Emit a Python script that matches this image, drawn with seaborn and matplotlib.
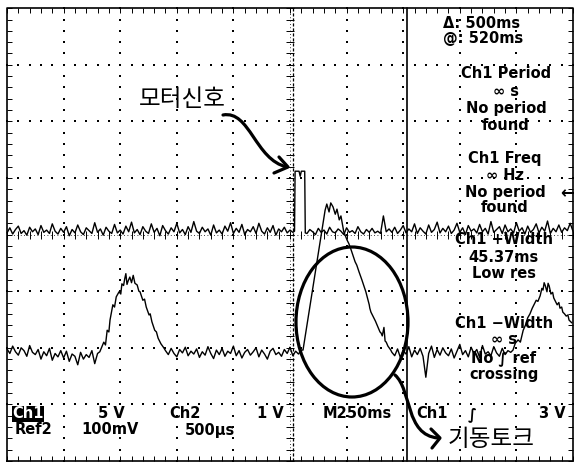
import matplotlib
matplotlib.use("Agg")
import matplotlib.pyplot as plt
from matplotlib.patches import Ellipse, PathPatch
from matplotlib.path import Path
from matplotlib.collections import LineCollection
import numpy as np
import seaborn as sns

# ---------------- data (screen divisions, 250 ms/div horizontally) ----------------
# Ch1: motor signal (upper trace)
ch1_t = [0.00, 0.05, 0.10, 0.15, 0.20, 0.25, 0.30, 0.35, 0.40, 0.45,
         0.50, 0.55, 0.60, 0.65, 0.70, 0.75, 0.80, 0.85, 0.90, 0.95,
         1.00, 1.05, 1.10, 1.15, 1.20, 1.25, 1.30, 1.35, 1.40, 1.45,
         1.50, 1.55, 1.60, 1.65, 1.70, 1.75, 1.80, 1.85, 1.90, 1.95,
         2.00, 2.05, 2.10, 2.15, 2.20, 2.25, 2.30, 2.35, 2.40, 2.45,
         2.50, 2.55, 2.60, 2.65, 2.70, 2.75, 2.80, 2.85, 2.90, 2.95,
         3.00, 3.05, 3.10, 3.15, 3.20, 3.25, 3.30, 3.35, 3.40, 3.45,
         3.50, 3.55, 3.60, 3.65, 3.70, 3.75, 3.80, 3.85, 3.90, 3.95,
         4.00, 4.05, 4.10, 4.15, 4.20, 4.25, 4.30, 4.35, 4.40, 4.45,
         4.50, 4.55, 4.60, 4.65, 4.70, 4.75, 4.80, 4.85, 4.90, 4.95,
         5.00, 5.05,
         5.08, 5.09, 5.16, 5.18, 5.20, 5.26, 5.27,
         5.30, 5.35, 5.40, 5.45, 5.50, 5.55, 5.60, 5.65, 5.70, 5.75,
         5.80, 5.85, 5.90, 5.95, 6.00, 6.05, 6.10, 6.15, 6.20, 6.25,
         6.30, 6.35, 6.40, 6.45, 6.50, 6.55, 6.60, 6.65, 6.70, 6.75,
         6.80, 6.85, 6.90, 6.95, 7.00, 7.05, 7.10, 7.15, 7.20, 7.25,
         7.30, 7.35, 7.40, 7.45, 7.50, 7.55, 7.60, 7.65, 7.70, 7.75,
         7.80, 7.85, 7.90, 7.95, 8.00, 8.05, 8.10, 8.15, 8.20, 8.25,
         8.30, 8.35, 8.40, 8.45, 8.50, 8.55, 8.60, 8.65, 8.70, 8.75,
         8.80, 8.85, 8.90, 8.95, 9.00, 9.05, 9.10, 9.15, 9.20, 9.25,
         9.30, 9.35, 9.40, 9.45, 9.50, 9.55, 9.60, 9.65, 9.70, 9.75,
         9.80, 9.85, 9.90, 9.95, 10.00]
ch1_v = [4.03, 4.12, 4.01, 4.09, 4.15, 4.02, 4.07, 3.99, 4.13, 4.05,
         4.10, 4.00, 4.16, 4.04, 4.08, 4.02, 4.19, 4.06, 4.01, 4.11,
         4.04, 4.14, 3.98, 4.09, 4.03, 4.17, 4.05, 4.00, 4.12, 4.07,
         4.02, 4.21, 4.04, 4.10, 3.99, 4.13, 4.06, 4.02, 4.18, 4.03,
         4.08, 4.01, 4.15, 4.05, 4.22, 4.03, 4.09, 4.00, 4.14, 4.06,
         4.02, 4.19, 4.04, 4.11, 3.98, 4.16, 4.07, 4.01, 4.12, 4.05,
         4.20, 4.03, 4.09, 4.00, 4.14, 4.04, 4.23, 4.06, 4.02, 4.13,
         4.05, 4.10, 3.99, 4.17, 4.03, 4.08, 4.01, 4.15, 4.06, 4.21,
         4.02, 4.11, 4.04, 4.18, 4.00, 4.09, 4.05, 4.14, 4.02, 4.20,
         4.06, 4.01, 4.12, 4.04, 4.16, 3.99, 4.10, 4.05, 4.13, 4.03,
         4.08, 4.04,
         4.06, 5.12, 5.12, 5.03, 5.12, 5.12, 4.03,
         4.02, 4.09, 4.05, 4.00, 4.11, 4.04, 4.08, 4.01, 4.13, 4.05,
         4.03, 4.10, 4.06, 4.00, 4.12, 4.04, 4.07, 4.02, 4.14, 4.05,
         4.01, 4.09, 4.04, 4.11, 4.03, 4.06, 4.02, 4.33, 4.05, 4.10,
         4.04, 4.13, 4.02, 4.08, 4.16, 4.03, 4.10, 4.05, 4.19, 4.02,
         4.12, 4.06, 4.01, 4.17, 4.04, 4.09, 4.22, 4.03, 4.11, 4.05,
         4.15, 4.02, 4.08, 4.20, 4.04, 4.12, 4.00, 4.16, 4.06, 4.10,
         4.03, 4.18, 4.05, 4.11, 4.01, 4.23, 4.04, 4.09, 4.14, 4.02,
         4.17, 4.05, 4.10, 4.03, 4.21, 4.06, 4.12, 4.01, 4.15, 4.04,
         4.09, 4.19, 4.03, 4.13, 4.06, 4.24, 4.02, 4.11, 4.05, 4.17,
         4.04, 4.12, 4.07, 4.20, 4.06]

# Ch2: starting torque (lower trace)
ch2_t = [0.00, 0.05, 0.10, 0.15, 0.20, 0.25, 0.30, 0.35, 0.40, 0.45,
         0.50, 0.55, 0.60, 0.65, 0.70, 0.75, 0.80, 0.85, 0.90, 0.95,
         1.00, 1.05, 1.10, 1.15, 1.20, 1.25, 1.30, 1.35, 1.40, 1.45,
         1.50, 1.55, 1.60,
         1.64, 1.71, 1.74, 1.77, 1.80, 1.82, 1.87, 1.90, 1.93, 1.98,
         2.01, 2.03, 2.06, 2.08, 2.10, 2.12, 2.14, 2.17, 2.20, 2.23,
         2.26, 2.30, 2.33, 2.35, 2.38, 2.40, 2.43, 2.46, 2.51, 2.53,
         2.56, 2.61, 2.64, 2.67, 2.72, 2.77,
         2.80, 2.85, 2.90, 2.95, 3.00, 3.05, 3.10, 3.15, 3.20, 3.25,
         3.30, 3.35, 3.40, 3.45, 3.50, 3.55, 3.60, 3.65, 3.70, 3.75,
         3.80, 3.85, 3.90, 3.95, 4.00, 4.05, 4.10, 4.15, 4.20, 4.25,
         4.30, 4.35, 4.40, 4.45, 4.50, 4.55, 4.60, 4.65, 4.70, 4.75,
         4.80, 4.85, 4.90, 4.95, 5.00, 5.05, 5.10, 5.15, 5.20,
         5.23, 5.62, 5.65, 5.69, 5.72, 5.76, 5.80, 5.83, 5.87, 5.90,
         5.95, 6.01, 6.04, 6.08, 6.15, 6.18, 6.22, 6.27, 6.31, 6.34,
         6.40, 6.41, 6.43, 6.48, 6.51, 6.54, 6.59, 6.61, 6.63, 6.66,
         6.68, 6.70, 6.73, 6.78,
         6.80, 6.85, 6.90, 6.95, 7.00, 7.05, 7.10, 7.15, 7.20, 7.25,
         7.30, 7.35, 7.40, 7.45, 7.50, 7.55, 7.60, 7.65, 7.70, 7.75,
         7.80, 7.85, 7.90, 7.95, 8.00, 8.05, 8.10, 8.15, 8.20, 8.25,
         8.30, 8.35, 8.40, 8.45, 8.50, 8.55, 8.60, 8.65, 8.70, 8.75,
         8.80, 8.85, 8.90,
         8.94, 8.98, 9.03, 9.07, 9.12, 9.16, 9.20, 9.24, 9.28, 9.32,
         9.35, 9.38, 9.42, 9.45, 9.47, 9.49, 9.51, 9.54, 9.56, 9.58,
         9.61, 9.64, 9.66, 9.69, 9.72, 9.75, 9.77, 9.80, 9.82, 9.85,
         9.88, 9.91, 9.93, 9.98]
ch2_v = [1.98, 1.90, 2.03, 1.93, 1.87, 2.00, 1.95, 1.85, 2.04, 1.92,
         1.88, 1.97, 1.80, 1.93, 1.86, 1.99, 1.78, 1.90, 1.84, 1.95,
         1.82, 1.94, 1.76, 1.89, 1.85, 1.70, 1.92, 1.80, 1.88, 1.83,
         1.95, 1.72, 1.90,
         1.93, 2.10, 2.05, 2.31, 2.28, 2.49, 2.76, 2.72, 2.90, 2.99,
         2.95, 3.13, 3.10, 3.22, 3.31, 3.12, 3.18, 3.25, 3.15, 3.28,
         3.14, 3.11, 3.00, 2.99, 2.90, 2.84, 2.86, 2.72, 2.58, 2.60,
         2.46, 2.31, 2.28, 2.17, 2.07, 2.00,
         1.95, 1.88, 1.99, 1.90, 1.84, 1.97, 1.91, 2.01, 1.86, 1.94,
         1.89, 1.98, 1.83, 1.93, 1.87, 2.02, 1.90, 1.81, 1.96, 1.88,
         1.99, 1.85, 1.94, 1.90, 2.03, 1.86, 1.95, 1.82, 1.92, 1.97,
         1.87, 1.93, 2.00, 1.84, 1.96, 1.89, 1.80, 1.94, 1.99, 1.88,
         1.92, 1.85, 1.97, 1.90, 2.01, 1.86, 1.94, 1.89, 1.96,
         1.96, 4.43, 4.54, 4.40, 4.56, 4.49, 4.36, 4.45, 4.26, 4.33,
         4.05, 3.90, 3.84, 3.73, 3.52, 3.46, 3.34, 3.20, 3.08, 2.99,
         2.76, 2.70, 2.63, 2.53, 2.47, 2.40, 2.28, 2.26, 2.21, 2.36,
         2.12, 2.10, 2.03, 1.96,
         1.92, 1.86, 1.98, 1.83, 1.95, 1.89, 2.02, 1.84, 1.96, 1.88,
         1.99, 1.85, 1.48, 1.90, 2.03, 1.83, 1.97, 1.87, 2.00, 1.91,
         1.86, 1.98, 1.82, 1.94, 2.06, 1.88, 1.95, 1.84, 2.01, 1.90,
         1.97, 1.83, 2.04, 1.89, 1.93, 1.86, 2.02, 1.91, 1.85, 1.99,
         1.88, 1.95, 1.92,
         1.96, 2.08, 2.14, 2.10, 2.31, 2.40, 2.53, 2.60, 2.70, 2.78,
         2.84, 2.82, 2.92, 3.05, 3.02, 3.15, 3.10, 2.99, 3.14, 3.09,
         2.95, 2.98, 2.88, 2.82, 2.76, 2.80, 2.70, 2.72, 2.63, 2.60,
         2.56, 2.58, 2.49, 2.44]

# readouts
cursor_lines = [5.06, 7.06]          # cursor positions (div)
readout_lines = ["\u0394: 500ms", "@: 520ms"]
meas_blocks = [["Ch1 Period", "\u221e s", "No period", "found"],
               ["Ch1 Freq", "\u221e Hz", "No period", "found"],
               ["Ch1 +Width", "45.37ms", "Low res"],
               ["Ch1 \u2212Width", "\u221e s", "No \u222b ref", "crossing"]]
status_row1 = ["Ch1", "5 V", "Ch2", "1 V", "M250ms", "Ch1", "\u222b", "3 V"]
status_row2 = ["Ref2", "100mV", "500\u00b5s"]
label_motor = "모터신호"
label_torque = "기동토크"

# ---------------- layout helpers ----------------
D = 56.6            # pixels per division
X0, YB = 7.0, 461.0  # graticule left / bottom in pixels


def P(px, py):
    return ((px - X0) / D, (YB - py) / D)


sns.set_theme(style="white")
plt.rcParams['font.family'] = ['DejaVu Sans']

fig = plt.figure(figsize=(5.74, 4.62), dpi=100)
ax = fig.add_axes([0, 0, 1, 1])
ax.set_xlim(P(0, 0)[0], P(574, 0)[0])
ax.set_ylim(P(0, 462)[1], P(0, 0)[1])
ax.axis('off')

K = 'black'

# graticule dots
minor_x = np.linspace(0, 10, 51)
minor_y = np.linspace(0, 8, 41)
gx, gy = [], []
for i in [1, 2, 3, 4, 6, 7, 8, 9]:
    gx += [i] * len(minor_y)
    gy += list(minor_y)
for j in [1, 2, 3, 5, 6, 7]:
    gx += list(minor_x)
    gy += [j] * len(minor_x)
ax.scatter(gx, gy, s=1.3, marker='s', color=K, linewidths=0, zorder=1)

# centre cross ticks and border ticks
tk = 0.07
segs = []
for y in minor_y:
    segs.append([(5 - tk, y), (5 + tk, y)])
    segs.append([(0, y), (0.08, y)])
    segs.append([(10, y), (10 - 0.08, y)])
for x in minor_x:
    segs.append([(x, 4 - tk), (x, 4 + tk)])
    segs.append([(x, 8), (x, 8 - 0.08)])
    segs.append([(x, 0), (x, 0.08)])
ax.add_collection(LineCollection(segs, colors=K, linewidths=0.7, zorder=1))
ax.plot([5, 5], [0, 8], color=K, lw=0.6, ls=(0, (1, 3)), zorder=1)
ax.plot([0, 10], [4, 4], color=K, lw=0.6, ls=(0, (1, 3)), zorder=1)

# frame
ax.plot([0, 0, 10, 10, 0], [0, 8, 8, 0, 0], color=K, lw=1.2, zorder=2)

# cursors
ax.plot([cursor_lines[0]] * 2, [0, 8], color=K, lw=0.9, ls=(0, (2.5, 1.5)), zorder=2)
ax.plot([cursor_lines[1]] * 2, [0, 8], color=K, lw=1.2, zorder=2)

# traces
sns.lineplot(x=ch1_t, y=ch1_v, sort=False, estimator=None, color=K, linewidth=1.0, ax=ax, zorder=3)
sns.lineplot(x=ch2_t, y=ch2_v, sort=False, estimator=None, color=K, linewidth=1.0, ax=ax, zorder=3)

# readout texts
fs = 10.5
def T(px, py, s, **kw):
    x, y = P(px, py)
    opts = dict(ha='center', va='center', fontsize=fs, color=K,
                fontweight='bold', zorder=5)
    opts.update(kw)
    ax.text(x, y, s, **opts)

T(482, 23, readout_lines[0])
T(483, 39, readout_lines[1])
block_pos = [(506, [74, 92, 109, 125]),
             (505, [159, 175, 192, 207]),
             (504, [240, 258, 274]),
             (504, [323, 340, 358, 374])]
for lines, (cx, ys) in zip(meas_blocks, block_pos):
    for s, yy in zip(lines, ys):
        T(cx, yy, s)
T(567, 193, "\u2190", fontsize=12)

row1_x = [28, 111, 185, 270, 357, 432, 472, 552]
for s, xx in zip(status_row1, row1_x):
    if xx == 28:
        T(xx, 414, s, color='white',
          bbox=dict(facecolor=K, edgecolor='none', pad=0.3))
    else:
        T(xx, 414, s)
for s, xx in zip(status_row2, [34, 110, 210]):
    T(xx, 430, s)

# hand-drawn annotations
T(182, 100, label_motor, fontsize=17, fontweight='normal',
  family=['Noto Sans CJK KR', 'DejaVu Sans'])
T(491, 439, label_torque, fontsize=17, fontweight='normal',
  family=['Noto Sans CJK KR', 'DejaVu Sans'])

ax.add_patch(Ellipse(P(352, 322), 112 / D, 150 / D, fill=False, lw=2.3, color=K, zorder=6))

def curve(p0, c1, c2, p1):
    verts = [P(*p0), P(*c1), P(*c2), P(*p1)]
    path = Path(verts, [Path.MOVETO, Path.CURVE4, Path.CURVE4, Path.CURVE4])
    ax.add_patch(PathPatch(path, fill=False, lw=2.3, color=K, capstyle='round', zorder=6))

def head(pts):
    xs, ys = zip(*[P(*p) for p in pts])
    ax.plot(xs, ys, color=K, lw=2.3, solid_capstyle='round', solid_joinstyle='round', zorder=6)

curve((223, 115), (250, 110), (255, 160), (287, 167))
head([(279, 157), (288, 167), (274, 173)])
curve((395, 375), (412, 390), (405, 435), (438, 438))
head([(431, 429), (440, 438), (432, 448)])

fig.savefig("out.png", dpi=100, facecolor='white')
